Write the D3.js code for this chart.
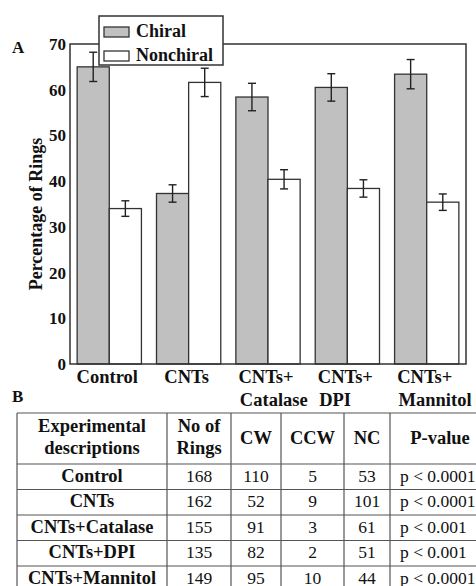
<!DOCTYPE html>
<html>
<head>
<meta charset="utf-8">
<script src="https://cdn.jsdelivr.net/npm/d3@7"></script>
<style>
  body { margin: 0; background: #fff; }
  svg { display: block; font-family: "Liberation Serif", "Times New Roman", serif; }
</style>
</head>
<body>
<div id="chart"></div>
<script>
// ---- data ----
const groups = ["Control", "CNTs", "CNTs+Catalase", "CNTs+DPI", "CNTs+Mannitol"];
const groupLabels = [["Control"], ["CNTs"], ["CNTs+", "Catalase"], ["CNTs+", "DPI"], ["CNTs+", "Mannitol"]];
const series = ["Chiral", "Nonchiral"];
const chiral = [65.0, 37.3, 58.4, 60.5, 63.4];
const chiralErr = [3.2, 1.9, 3.0, 3.0, 3.2];
const nonchiral = [34.0, 61.6, 40.4, 38.4, 35.4];
const nonchiralErr = [1.7, 3.1, 2.1, 1.9, 1.8];
const yTicks = [0, 10, 20, 30, 40, 50, 60, 70];

const tableHead = [["Experimental", "descriptions"], ["No of", "Rings"], ["CW"], ["CCW"], ["NC"], ["P-value"]];
const rowNames = ["Control", "CNTs", "CNTs+Catalase", "CNTs+DPI", "CNTs+Mannitol"];
const ringCount = [168, 162, 155, 135, 149];
const cwCount = [110, 52, 91, 82, 95];
const ccwCount = [5, 9, 3, 2, 10];
const ncCount = [53, 101, 61, 51, 44];
const pValues = ["p < 0.0001", "p < 0.0001", "p < 0.001", "p < 0.001", "p < 0.0001"];

const W = 476, H = 586;
const svg = d3.select("#chart").append("svg")
  .attr("width", W).attr("height", H);

// ---- panel A ----
const plot = { left: 70, right: 466, top: 44, bottom: 364 };

const x0 = d3.scaleBand()
  .domain(groups)
  .range([plot.left, plot.right])
  .paddingInner(0.19)
  .paddingOuter(0.09);
const x1 = d3.scaleBand()
  .domain(series)
  .range([0, x0.bandwidth()]);
const y = d3.scaleLinear()
  .domain([0, 70])
  .range([plot.bottom, plot.top]);

const barData = [];
groups.forEach((g, i) => {
  barData.push({ g, s: "Chiral", v: chiral[i], e: chiralErr[i] });
  barData.push({ g, s: "Nonchiral", v: nonchiral[i], e: nonchiralErr[i] });
});
const fill = { Chiral: "#c0c0c0", Nonchiral: "#ffffff" };

// y axis labels (no tick lines)
const yAxis = svg.append("g")
  .attr("transform", `translate(${plot.left},0)`)
  .call(d3.axisLeft(y).tickValues(yTicks).tickSize(0).tickPadding(4));
yAxis.select(".domain").remove();
yAxis.attr("font-family", null);
yAxis.selectAll("text")
  .attr("font-size", 17)
  .attr("font-weight", "bold")
  .attr("fill", "#111");

svg.append("text")
  .attr("transform", `translate(42,214) rotate(-90)`)
  .attr("text-anchor", "middle")
  .attr("font-size", 18)
  .attr("font-weight", "bold")
  .attr("fill", "#111")
  .text("Percentage of Rings");

// bars
svg.append("g").selectAll("rect")
  .data(barData)
  .join("rect")
  .attr("x", d => x0(d.g) + x1(d.s))
  .attr("y", d => y(d.v))
  .attr("width", x1.bandwidth())
  .attr("height", d => y(0) - y(d.v))
  .attr("fill", d => fill[d.s])
  .attr("stroke", "#333")
  .attr("stroke-width", 1.3);

// error bars
const eb = svg.append("g").attr("stroke", "#222").attr("stroke-width", 1.4);
barData.forEach(d => {
  const cx = x0(d.g) + x1(d.s) + x1.bandwidth() / 2;
  eb.append("line").attr("x1", cx).attr("x2", cx).attr("y1", y(d.v + d.e)).attr("y2", y(d.v - d.e));
  eb.append("line").attr("x1", cx - 4).attr("x2", cx + 4).attr("y1", y(d.v + d.e)).attr("y2", y(d.v + d.e));
  eb.append("line").attr("x1", cx - 4).attr("x2", cx + 4).attr("y1", y(d.v - d.e)).attr("y2", y(d.v - d.e));
});

// plot frame
svg.append("rect")
  .attr("x", plot.left).attr("y", plot.top)
  .attr("width", plot.right - plot.left).attr("height", plot.bottom - plot.top)
  .attr("fill", "none").attr("stroke", "#333").attr("stroke-width", 1.5);

// x labels
groups.forEach((g, i) => {
  const lines = groupLabels[i];
  svg.append("text")
    .attr("x", x0(g) + x0.bandwidth() / 2 - 2)
    .attr("y", 383)
    .attr("text-anchor", "middle")
    .attr("font-size", 18.5).attr("font-weight", "bold").attr("fill", "#111")
    .text(lines[0]);
  if (lines[1]) {
    svg.append("text")
      .attr("x", x0(g) + 4)
      .attr("y", 406)
      .attr("font-size", 18.5).attr("font-weight", "bold").attr("fill", "#111")
      .text(lines[1]);
  }
});

// legend
const legend = svg.append("g");
legend.append("rect")
  .attr("x", 99).attr("y", 16).attr("width", 124).attr("height", 49)
  .attr("fill", "#fff").attr("stroke", "#333").attr("stroke-width", 1.5);
series.forEach((s, i) => {
  legend.append("rect")
    .attr("x", 104).attr("y", 27 + i * 24).attr("width", 25).attr("height", 10)
    .attr("fill", fill[s]).attr("stroke", "#333").attr("stroke-width", 1.3);
  legend.append("text")
    .attr("x", 136).attr("y", 37 + i * 24)
    .attr("font-size", 18).attr("font-weight", "bold").attr("fill", "#111")
    .text(s);
});

// panel letters
svg.append("text").attr("x", 12).attr("y", 53)
  .attr("font-size", 17).attr("font-weight", "bold").attr("fill", "#111").text("A");
svg.append("text").attr("x", 12).attr("y", 402)
  .attr("font-size", 17).attr("font-weight", "bold").attr("fill", "#111").text("B");

// ---- panel B table ----
const colEdges = [17, 167, 231, 281, 344, 390, 490];
const headTop = 413, headBottom = 464, rowH = 25.5;
const rowTops = rowNames.map((_, i) => headBottom + i * rowH);
const tableBottom = headBottom + rowNames.length * rowH;

const tbl = svg.append("g");
const grid = tbl.append("g").attr("stroke", "#555").attr("stroke-width", 1.2);
colEdges.forEach(cx => {
  grid.append("line").attr("x1", cx).attr("x2", cx).attr("y1", headTop).attr("y2", tableBottom);
});
[headTop, headBottom, ...rowTops.slice(1), tableBottom].forEach(ry => {
  grid.append("line").attr("x1", colEdges[0]).attr("x2", colEdges[colEdges.length - 1]).attr("y1", ry).attr("y2", ry);
});

tableHead.forEach((lines, c) => {
  const cx = (colEdges[c] + colEdges[c + 1]) / 2;
  const baseY = lines.length === 2 ? [432, 454] : [444];
  lines.forEach((t, k) => {
    tbl.append("text")
      .attr("x", cx).attr("y", baseY[k])
      .attr("text-anchor", "middle")
      .attr("font-size", 18.5).attr("font-weight", "bold").attr("fill", "#111")
      .text(t);
  });
});

const colValues = [rowNames, ringCount, cwCount, ccwCount, ncCount];
rowNames.forEach((_, r) => {
  const by = rowTops[r] + 17.5;
  colValues.forEach((vals, c) => {
    const cx = (colEdges[c] + colEdges[c + 1]) / 2;
    tbl.append("text")
      .attr("x", cx).attr("y", by)
      .attr("text-anchor", "middle")
      .attr("font-size", c === 0 ? 18.5 : 17.5)
      .attr("font-weight", c === 0 ? "bold" : "normal")
      .attr("fill", "#111")
      .text(vals[r]);
  });
  tbl.append("text")
    .attr("x", colEdges[5] + 10).attr("y", by)
    .attr("font-size", 17.5).attr("fill", "#111")
    .text(pValues[r]);
});
</script>
</body>
</html>
